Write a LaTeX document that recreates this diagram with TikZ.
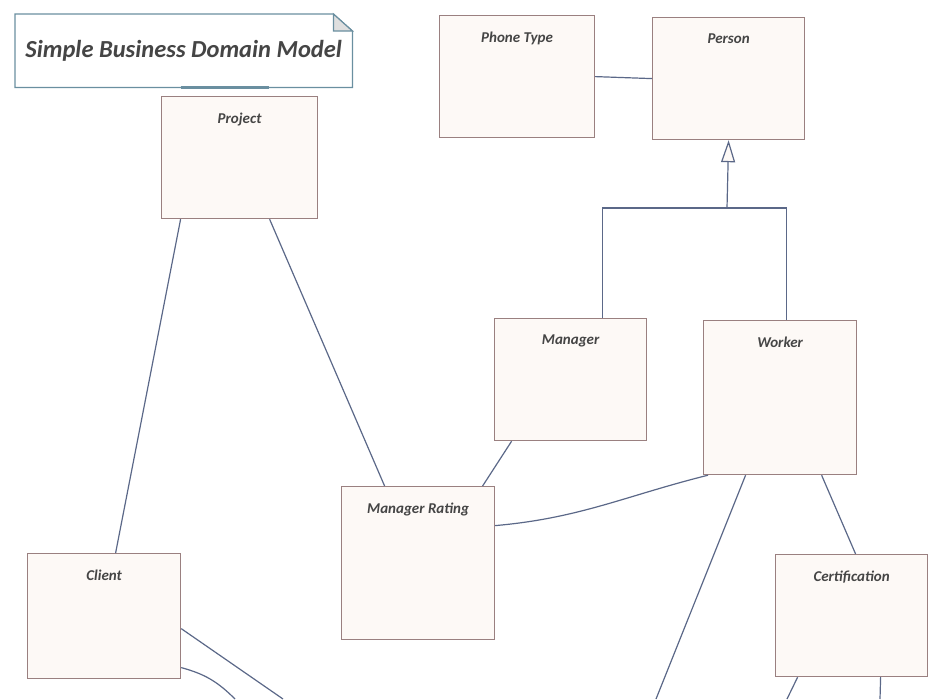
\documentclass[tikz,border=0pt]{standalone}
\usepackage{fontspec}
\setmainfont{Carlito}
\usepackage{xcolor}
\usetikzlibrary{positioning, arrows.meta, calc}

\definecolor{boxline}{HTML}{9A8080}
\definecolor{boxfill}{HTML}{FDF9F6}
\definecolor{wire}{HTML}{5B6888}
\definecolor{txt}{HTML}{454545}
\definecolor{noteline}{HTML}{6A8FA0}

\begin{document}
\begin{tikzpicture}[x=1pt, y=-1pt,
  cls/.style={draw=boxline, fill=boxfill, line width=1.2pt, anchor=north west,
              minimum width=153pt, minimum height=122pt, inner sep=0pt},
  lbl/.style={font=\bfseries\itshape\fontsize{15}{17}\selectfont, text=txt,
              anchor=north, yshift=-13pt},
  wire/.style={draw=wire, line width=1.2pt},
  inherit/.style={wire, -{Triangle[length=22pt, width=14pt, fill=boxfill]}}
]
  \useasboundingbox (0,0) rectangle (949,699);

  % title note
  \node[minimum width=337pt, minimum height=73pt, anchor=north west,
        font=\bfseries\itshape\fontsize{24.5}{28}\selectfont, text=txt]
        (title) at (15,14) {Simple Business Domain Model};
  \draw[draw=noteline, line width=1.2pt]
        (title.north west) -- ([xshift=-19pt]title.north east)
        -- ([yshift=-17pt]title.north east) -- (title.south east)
        -- (title.south west) -- cycle;
  \draw[draw=noteline, fill=gray!25, line width=1.2pt]
        ([xshift=-19pt]title.north east) -- ([xshift=-19pt, yshift=-17pt]title.north east)
        -- ([yshift=-17pt]title.north east) -- cycle;
  \draw[draw=noteline, line width=2.2pt]
        ([xshift=-3pt]title.south) -- ([xshift=85pt]title.south);

  % classes
  \node[cls, minimum width=155pt, label={[lbl]north:Phone Type}] (phone) at (439,15) {};
  \node[cls, minimum width=152pt, label={[lbl]north:Person}]     (person) at (652,17) {};
  \node[cls, minimum width=156pt, label={[lbl]north:Project}]    (project) at (161,96) {};
  \node[cls, minimum width=152pt, label={[lbl]north:Manager}]    (manager) at (494,318) {};
  \node[cls, minimum height=154pt, label={[lbl]north:Worker}]    (worker) at (703,320) {};
  \node[cls, minimum height=153pt, label={[lbl]north:Manager Rating}] (rating) at (341,486) {};
  \node[cls, minimum height=125pt, label={[lbl]north:Client}]    (client) at (27,553) {};
  \node[cls, minimum width=152pt, label={[lbl]north:Certification}] (cert) at (775,554) {};

  % free ends
  \coordinate (gen) at (727,208);
  \coordinate (wout) at (656,699);
  \coordinate (cout1) at (787,699);
  \coordinate (cout2) at (880,699);
  \coordinate (clout1) at (283,699);
  \coordinate (clout2) at (235,699);

  % associations
  \draw[wire] (phone.east) -- (person.west);
  \draw[wire] ([xshift=32pt]manager.north) |- (gen) -| ([xshift=6.5pt]worker.north);
  \draw[inherit] (gen) -- (person.south);
  \draw[wire] ([xshift=-59pt]project.south) -- ([xshift=11.5pt]client.north);
  \draw[wire] ([xshift=30pt]project.south) -- ([xshift=-33.5pt]rating.north);
  \draw[wire] ([xshift=-59pt]manager.south) -- ([xshift=64.5pt]rating.north);
  \draw[wire] ([yshift=37.5pt]rating.east) to[out=5, in=194] ([xshift=5pt]worker.south west);
  \draw[wire] ([xshift=-34.5pt]worker.south) -- (wout);
  \draw[wire] ([xshift=41.5pt]worker.south) -- ([xshift=4pt]cert.north);
  \draw[wire] ([xshift=-54pt]cert.south) -- (cout1);
  \draw[wire] ([xshift=29pt]cert.south) -- (cout2);
  \draw[wire] ([yshift=-12.5pt]client.east) -- (clout1);
  \draw[wire] ([yshift=-51.5pt]client.east) to[out=-15, in=135] (clout2);
\end{tikzpicture}
\end{document}
